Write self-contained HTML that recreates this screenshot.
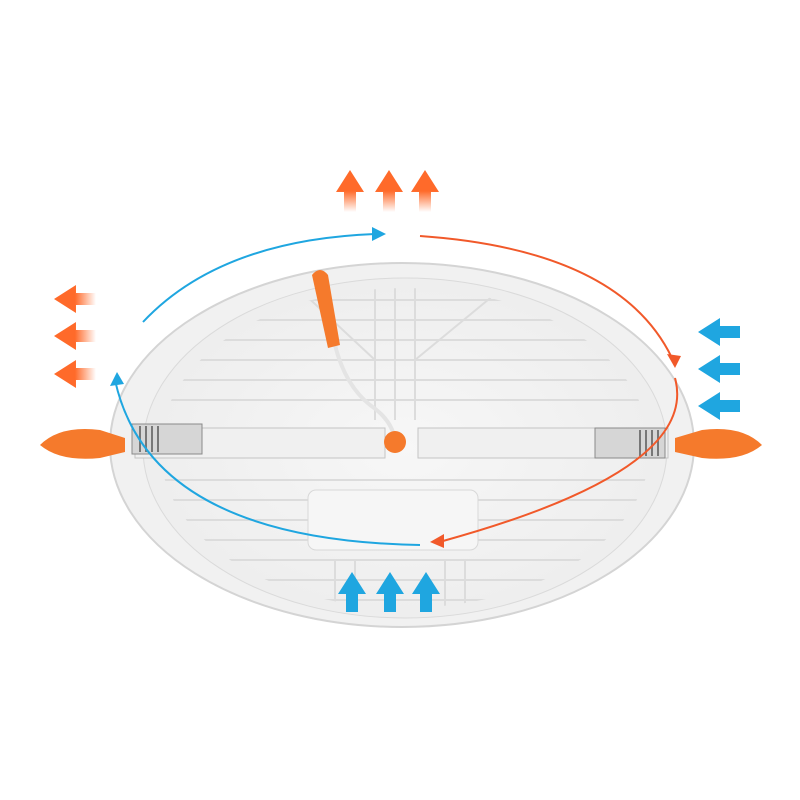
<!DOCTYPE html>
<html><head><style>html,body{margin:0;padding:0;background:#fff}svg{display:block}</style></head>
<body>
<svg width="800" height="800" viewBox="0 0 800 800" xmlns="http://www.w3.org/2000/svg">
<defs>
<linearGradient id="ou" x1="0" y1="1" x2="0" y2="0"><stop offset="0" stop-color="#ff6a2a" stop-opacity="0"/><stop offset="0.5" stop-color="#ff6a2a"/></linearGradient>
<linearGradient id="ol" x1="1" y1="0" x2="0" y2="0"><stop offset="0" stop-color="#ff6a2a" stop-opacity="0"/><stop offset="0.5" stop-color="#ff6a2a"/></linearGradient>
<radialGradient id="pan" cx="0.5" cy="0.5" r="0.6"><stop offset="0" stop-color="#f7f7f7"/><stop offset="1" stop-color="#ececec"/></radialGradient>
<clipPath id="ic"><ellipse cx="405" cy="448" rx="245" ry="160"/></clipPath>
</defs>
<ellipse cx="402" cy="445" rx="292" ry="182" fill="#f1f1f1" stroke="#d4d4d4" stroke-width="2"/>
<ellipse cx="405" cy="448" rx="262" ry="170" fill="url(#pan)" stroke="#dadada"/>
<g clip-path="url(#ic)" stroke="#dcdcdc" stroke-width="2" fill="none">
<path d="M150 300 H660 M150 320 H660 M150 340 H660 M150 360 H660 M150 380 H660 M150 400 H660 M150 480 H660 M150 500 H660 M150 520 H660 M150 540 H660 M150 560 H660 M150 580 H660 M150 600 H660"/>
<path d="M375 280 V420 M395 280 V420 M415 280 V420 M335 560 V620 M355 560 V620 M445 560 V620 M465 560 V620"/>
<path d="M300 290 L375 360 M500 290 L415 360"/>
</g>
<rect x="308" y="490" width="170" height="60" rx="8" fill="#f6f6f6" stroke="#d8d8d8"/>
<rect x="135" y="428" width="250" height="30" fill="#f0f0f0" stroke="#c4c4c4"/>
<rect x="418" y="428" width="250" height="30" fill="#f0f0f0" stroke="#c4c4c4"/>
<rect x="132" y="424" width="70" height="30" fill="#d6d6d6" stroke="#8a8a8a"/>
<rect x="595" y="428" width="70" height="30" fill="#d6d6d6" stroke="#8a8a8a"/>
<g stroke="#777" stroke-width="2"><path d="M140 426 V452 M146 426 V452 M152 426 V452 M158 426 V452 M640 430 V456 M646 430 V456 M652 430 V456 M658 430 V456"/></g>
<path d="M40 445 Q60 425 100 430 L125 438 L125 452 L100 458 Q60 462 40 445Z" fill="#f57a2c"/>
<path d="M762 445 Q742 425 702 430 L675 438 L675 452 L702 458 Q742 462 762 445Z" fill="#f57a2c"/>
<path d="M335 345 Q345 385 370 405 Q392 420 395 440" stroke="#e4e4e4" stroke-width="4" fill="none"/>
<path d="M312 275 Q320 265 328 275 L340 345 L328 348 Z" fill="#f57a2c"/>
<circle cx="395" cy="442" r="11" fill="#f57a2c"/>
<path d="M143 322 Q220 240 375 234" stroke="#1fa6e0" stroke-width="2" fill="none"/>
<polygon points="386,234 372,227 372,241" fill="#1fa6e0"/>
<path d="M420 236 Q620 250 672 358" stroke="#f1592a" stroke-width="2" fill="none"/>
<polygon points="675,368 667,354 681,356" fill="#f1592a"/>
<path d="M675 378 Q700 470 443 541" stroke="#f1592a" stroke-width="2" fill="none"/>
<polygon points="430,542 444,534 444,548" fill="#f1592a"/>
<path d="M420 545 Q150 540 115 380" stroke="#1fa6e0" stroke-width="2" fill="none"/>
<polygon points="117,372 110,386 124,384" fill="#1fa6e0"/>
<g fill="url(#ou)">
<polygon points="350,170 336,192 344,192 344,212 356,212 356,192 364,192"/>
<polygon points="389,170 375,192 383,192 383,212 395,212 395,192 403,192"/>
<polygon points="425,170 411,192 419,192 419,212 431,212 431,192 439,192"/>
</g>
<g fill="url(#ol)">
<polygon points="54,299 76,285 76,293 96,293 96,305 76,305 76,313"/>
<polygon points="54,336 76,322 76,330 96,330 96,342 76,342 76,350"/>
<polygon points="54,374 76,360 76,368 96,368 96,380 76,380 76,388"/>
</g>
<g fill="#1fa6e0">
<polygon points="698,332 720,318 720,326 740,326 740,338 720,338 720,346"/>
<polygon points="698,369 720,355 720,363 740,363 740,375 720,375 720,383"/>
<polygon points="698,406 720,392 720,400 740,400 740,412 720,412 720,420"/>
<polygon points="352,572 338,594 346,594 346,612 358,612 358,594 366,594"/>
<polygon points="390,572 376,594 384,594 384,612 396,612 396,594 404,594"/>
<polygon points="426,572 412,594 420,594 420,612 432,612 432,594 440,594"/>
</g>
</svg>
</body></html>
